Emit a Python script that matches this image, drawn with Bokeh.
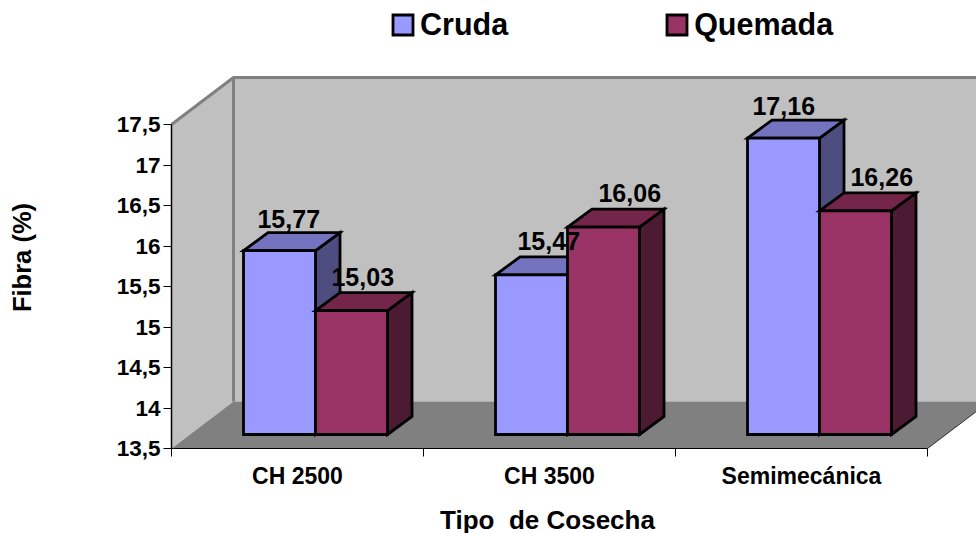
from bokeh.plotting import figure
from bokeh.models import Range1d, LinearAxis, FixedTicker, Legend, LegendItem
from bokeh.core.properties import value
from bokeh.embed import file_html
from bokeh.resources import INLINE

categories = ["CH 2500", "CH 3500", "Semimecánica"]
cruda = [15.77, 15.47, 17.16]
quemada = [15.03, 16.06, 16.26]
y_ticks = [13.5, 14, 14.5, 15, 15.5, 16, 16.5, 17, 17.5]
y_tick_labels = ["13,5", "14", "14,5", "15", "15,5", "16", "16,5", "17", "17,5"]

FONT = "Liberation Sans"
W, H = 976, 533
PX, PY = 1 / 252, 1 / 81           # data units per screen pixel
Y0 = 13.5
AX_LEFT, AX_BOTTOM = 171, 448      # axis origin inside the frame
WALL_DX, WALL_DY = 62 * PX, 47 * PY
BAR_DX, BAR_DY = 24.5 * PX, 18 * PY
BASE_DX, BASE_DY = 18 * PX, 14 * PY
BAR_W = 72 * PX
N = len(categories)

p = figure(width=W, height=H, output_backend="svg", toolbar_location=None, min_border=0,
           x_range=Range1d(-AX_LEFT * PX, (W - AX_LEFT) * PX),
           y_range=Range1d(Y0 - (H - AX_BOTTOM) * PY, Y0 + AX_BOTTOM * PY),
           outline_line_color=None, background_fill_color="white", border_fill_color="white",
           x_axis_type=None, y_axis_type=None)
p.grid.visible = False

top = y_ticks[-1]
# walls and floor
p.patch([0, WALL_DX, WALL_DX, 0], [Y0, Y0 + WALL_DY, top + WALL_DY, top], fill_color="#C0C0C0", line_color=None)
p.patch([WALL_DX, N + WALL_DX, N + WALL_DX, WALL_DX], [Y0 + WALL_DY, Y0 + WALL_DY, top + WALL_DY, top + WALL_DY],
        fill_color="#C0C0C0", line_color=None)
p.patch([0, N, N + WALL_DX, WALL_DX], [Y0, Y0, Y0 + WALL_DY, Y0 + WALL_DY], fill_color="#808080", line_color=None)
p.line([0, WALL_DX, N + WALL_DX], [top, top + WALL_DY, top + WALL_DY], line_color="#808080", line_width=3)
p.line([WALL_DX, WALL_DX], [top + WALL_DY, Y0 + WALL_DY], line_color="#808080", line_width=3)
p.line([N, N + WALL_DX], [Y0, Y0 + WALL_DY], line_color="#303030", line_width=1)

# bars
def draw(series, offset, front, topc, side):
    fx, fy, tx, ty, sx, sy = [], [], [], [], [], []
    for i, v in enumerate(series):
        x0 = i + 0.5 - BAR_W + offset * BAR_W + BASE_DX
        x1 = x0 + BAR_W
        y0, y1 = Y0 + BASE_DY, v + BASE_DY
        fx.append([x0, x1, x1, x0]); fy.append([y0, y0, y1, y1])
        tx.append([x0, x1, x1 + BAR_DX, x0 + BAR_DX]); ty.append([y1, y1, y1 + BAR_DY, y1 + BAR_DY])
        sx.append([x1, x1 + BAR_DX, x1 + BAR_DX, x1]); sy.append([y0, y0 + BAR_DY, y1 + BAR_DY, y1])
    kw = dict(line_color="black", line_width=2.8, line_join="miter")
    p.patches(sx, sy, fill_color=side, **kw)
    p.patches(tx, ty, fill_color=topc, **kw)
    return p.patches(fx, fy, fill_color=front, **kw)

r_c = draw(cruda, 0, "#9999FF", "#7373BF", "#4D4D80")
r_q = draw(quemada, 1, "#993366", "#732649", "#4D1A33")

# value labels
label_dx_c = [-3, 5, -12]
label_dx_q = [-1, 14, 14]
label_dy_c = [14, 16, 14]
label_dy_q = [16, 16, 16]
for series, off, dxs, dys in ((cruda, 0, label_dx_c, label_dy_c), (quemada, 1, label_dx_q, label_dy_q)):
    for i, v in enumerate(series):
        x = i + 0.5 - BAR_W + off * BAR_W + BASE_DX + BAR_W / 2 + BAR_DX / 2
        y = v + BASE_DY + BAR_DY
        p.text([x], [y], text=[f"{v:.2f}".replace(".", ",")], x_offset=dxs[i], y_offset=-dys[i],
               text_font=value(FONT), text_font_style="bold", text_font_size="25px",
               text_align="center", text_baseline="alphabetic", text_color="black")

# axes
def style(ax, size):
    ax.major_label_text_font = FONT
    ax.major_label_text_font_style = "bold"
    ax.major_label_text_font_size = size
    ax.major_label_text_color = "black"
    ax.minor_tick_line_color = None

ya = LinearAxis(ticker=FixedTicker(ticks=y_ticks), fixed_location=0, bounds=(Y0, top),
                major_label_overrides={t: l for t, l in zip(y_ticks, y_tick_labels)},
                major_tick_in=0, major_tick_out=8, major_label_standoff=3,
                axis_line_color="black", axis_line_width=1.5, major_tick_line_color="black")
style(ya, "22.5px")
p.add_layout(ya, "left")

xa = LinearAxis(ticker=FixedTicker(ticks=list(range(N + 1))), fixed_location=Y0, bounds=(0, N),
                major_tick_in=0, major_tick_out=8, major_label_text_font_size="0px",
                major_label_overrides={i: "" for i in range(N + 1)},
                axis_line_color="black", major_tick_line_color="black", minor_tick_line_color=None)
p.add_layout(xa, "below")

xl = LinearAxis(ticker=FixedTicker(ticks=[i + 0.5 for i in range(N)]), fixed_location=Y0, bounds=(0, N),
                major_tick_line_color=None, axis_line_color=None, major_label_standoff=8,
                major_label_overrides={i + 0.5: c for i, c in enumerate(categories)})
style(xl, "23px")
p.add_layout(xl, "below")

# axis titles
p.text([N / 2 - 2 * PX], [Y0 - 71 * PY], text=["Tipo\u00a0 de Cosecha"], text_font=value(FONT), text_font_style="bold",
       text_font_size="26px", text_align="center", text_baseline="middle", text_color="black")
p.text([-150 * PX], [Y0 + 191 * PY], text=["Fibra (%)"], angle=90, angle_units="deg", text_font=value(FONT),
       text_font_style="bold", text_font_size="25.5px", text_align="center", text_baseline="middle", text_color="black")

legend = Legend(items=[LegendItem(label="Cruda", renderers=[r_c]), LegendItem(label="Quemada", renderers=[r_q])],
                orientation="horizontal", location=(390, 491), spacing=156, padding=0, margin=0,
                glyph_width=25, glyph_height=25, label_standoff=5, border_line_color=None,
                background_fill_alpha=0, label_text_font=FONT, label_text_font_style="bold",
                label_text_font_size="30.5px", label_text_color="black")
p.add_layout(legend, "center")

open("out.html", "w").write(file_html(p, INLINE))
